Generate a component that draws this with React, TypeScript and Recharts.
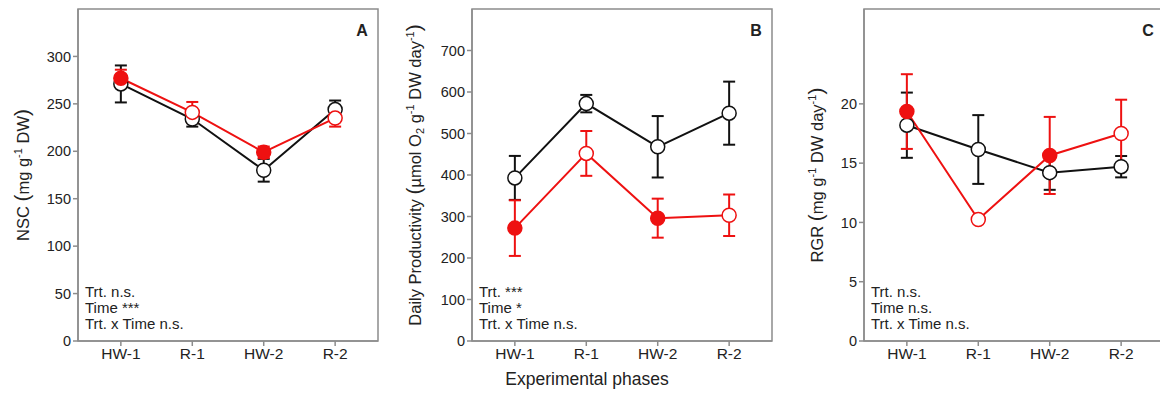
import React from "react";
import { LineChart, Line, XAxis, YAxis, ErrorBar, ReferenceArea } from "recharts";

const PHASES = ["HW-1", "R-1", "HW-2", "R-2"];
// heat-wave phases get a filled red marker
const RED_FILLED = [true, false, true, false];

// A: NSC
const NSC_CTRL = [271, 234, 180, 244];
const NSC_CTRL_SE = [19.5, 8, 12, 9.5];
const NSC_HW = [277, 241, 199, 235];
const NSC_HW_SE = [9, 11, 6, 9];

// B: daily productivity
const DP_CTRL = [393, 572, 468, 549];
const DP_CTRL_SE = [53, 21, 74, 76];
const DP_HW = [272, 452, 296, 303];
const DP_HW_SE = [67, 54, 47, 50];

// C: RGR
const RGR_CTRL = [18.2, 16.15, 14.2, 14.7];
const RGR_CTRL_SE = [2.75, 2.9, 1.45, 0.9];
const RGR_HW = [19.35, 10.25, 15.65, 17.5];
const RGR_HW_SE = [3.15, 0.3, 3.25, 2.85];

const BLACK = "#111111";
const RED = "#ee1111";
const FRAME = "#8c8c8c";
const TEXT = "#222222";
const FONT = "'Liberation Sans', Arial, sans-serif";

function buildRows(ctrl: number[], ctrlSe: number[], hw: number[], hwSe: number[]) {
  return PHASES.map((p, i) => ({
    x: i,
    phase: p,
    ctrl: ctrl[i],
    ctrlSe: ctrlSe[i],
    hw: hw[i],
    hwSe: hwSe[i],
    filled: RED_FILLED[i],
  }));
}

const ctrlDot = (props: any) => {
  const { cx, cy, index } = props;
  if (cx == null || cy == null) return <g key={`c-${index}`} />;
  return <circle key={`c-${index}`} cx={cx} cy={cy} r={7} fill="#fff" stroke={BLACK} strokeWidth={1.5} />;
};

const hwDot = (props: any) => {
  const { cx, cy, index, payload } = props;
  if (cx == null || cy == null) return <g key={`h-${index}`} />;
  return (
    <circle
      key={`h-${index}`}
      cx={cx}
      cy={cy}
      r={7}
      fill={payload.filled ? RED : "#fff"}
      stroke={RED}
      strokeWidth={1.5}
    />
  );
};

interface PanelProps {
  left: number;
  rows: ReturnType<typeof buildRows>;
  yMax: number;
  yTicks: number[];
  letter: string;
  stats: string[];
  yLabel: React.ReactNode;
  yLabelX: number;
}

function Panel({ left, rows, yMax, yTicks, letter, stats, yLabel, yLabelX }: PanelProps) {
  return (
    <div style={{ position: "absolute", left, top: 0, width: 394, height: 396 }}>
      <LineChart width={394} height={396} data={rows} margin={{ top: 9, right: 16, left: 0, bottom: 15 }}>
        <ReferenceArea x1={-0.6} x2={3.6} y1={0} y2={yMax} fill="none" stroke={FRAME} strokeWidth={1.5} />
        <XAxis
          type="number"
          dataKey="x"
          domain={[-0.6, 3.6]}
          ticks={[0, 1, 2, 3]}
          tickFormatter={(v: number) => PHASES[v]}
          height={40}
          tickSize={5}
          stroke={FRAME}
          strokeWidth={1.5}
          tick={{ fontSize: 15.5, fill: TEXT, fontFamily: FONT }}
          allowDataOverflow
        />
        <YAxis
          type="number"
          domain={[0, yMax]}
          ticks={yTicks}
          width={78}
          tickSize={5}
          stroke={FRAME}
          strokeWidth={1.5}
          tick={{ fontSize: 14.5, fill: TEXT, fontFamily: FONT }}
          allowDataOverflow
        />
        <Line
          dataKey="ctrl"
          stroke={BLACK}
          strokeWidth={2}
          dot={ctrlDot}
          activeDot={false}
          isAnimationActive={false}
        >
          <ErrorBar dataKey="ctrlSe" direction="y" width={6} stroke={BLACK} strokeWidth={2} />
        </Line>
        <Line
          dataKey="hw"
          stroke={RED}
          strokeWidth={2}
          dot={hwDot}
          activeDot={false}
          isAnimationActive={false}
        >
          <ErrorBar dataKey="hwSe" direction="y" width={6} stroke={RED} strokeWidth={2} />
        </Line>
      </LineChart>
      <div
        style={{
          position: "absolute",
          left: 362,
          top: 31,
          transform: "translate(-50%, -50%)",
          fontWeight: "bold",
          fontSize: 16,
          color: TEXT,
          fontFamily: FONT,
        }}
      >
        {letter}
      </div>
      <div
        style={{
          position: "absolute",
          left: 85,
          top: 284,
          fontSize: 15,
          lineHeight: "16px",
          color: TEXT,
          fontFamily: FONT,
          whiteSpace: "nowrap",
        }}
      >
        {stats.map((s) => (
          <div key={s}>{s}</div>
        ))}
      </div>
      <div
        style={{
          position: "absolute",
          left: yLabelX,
          top: 175,
          transform: "translate(-50%, -50%) rotate(-90deg)",
          fontSize: 16.5,
          color: TEXT,
          fontFamily: FONT,
          whiteSpace: "nowrap",
        }}
      >
        {yLabel}
      </div>
    </div>
  );
}

const sup = (s: string) => <sup style={{ fontSize: 11, verticalAlign: "7px", lineHeight: 0 }}>{s}</sup>;
const sub = (s: string) => <sub style={{ fontSize: 11, verticalAlign: "-3px", lineHeight: 0 }}>{s}</sub>;
const paren = (s: string) => <span style={{ fontSize: 21, fontWeight: 300 }}>{s}</span>;

export default function App() {
  return (
    <div
      style={{
        position: "absolute",
        left: 0,
        top: 0,
        width: 1160,
        height: 396,
        overflow: "hidden",
        background: "#fff",
      }}
    >
      <Panel
        left={0}
        rows={buildRows(NSC_CTRL, NSC_CTRL_SE, NSC_HW, NSC_HW_SE)}
        yMax={350}
        yTicks={[0, 50, 100, 150, 200, 250, 300]}
        letter="A"
        stats={["Trt. n.s.", "Time ***", "Trt. x Time n.s."]}
        yLabelX={22}
        yLabel={
          <>
            NSC {paren("(")}mg g{sup("-1")} DW{paren(")")}
          </>
        }
      />
      <Panel
        left={394}
        rows={buildRows(DP_CTRL, DP_CTRL_SE, DP_HW, DP_HW_SE)}
        yMax={800}
        yTicks={[0, 100, 200, 300, 400, 500, 600, 700]}
        letter="B"
        stats={["Trt. ***", "Time *", "Trt. x Time n.s."]}
        yLabelX={20}
        yLabel={
          <>
            Daily Productivity {paren("(")}µmol O{sub("2")} g{sup("-1")} DW day{sup("-1")}
            {paren(")")}
          </>
        }
      />
      <Panel
        left={786}
        rows={buildRows(RGR_CTRL, RGR_CTRL_SE, RGR_HW, RGR_HW_SE)}
        yMax={28}
        yTicks={[0, 5, 10, 15, 20]}
        letter="C"
        stats={["Trt. n.s.", "Time n.s.", "Trt. x Time n.s."]}
        yLabelX={30}
        yLabel={
          <>
            RGR {paren("(")}mg g{sup("-1")} DW day{sup("-1")}
            {paren(")")}
          </>
        }
      />
      <div
        style={{
          position: "absolute",
          left: 587,
          top: 379,
          transform: "translate(-50%, -50%)",
          fontSize: 17.5,
          color: TEXT,
          fontFamily: FONT,
          whiteSpace: "nowrap",
        }}
      >
        Experimental phases
      </div>
    </div>
  );
}
